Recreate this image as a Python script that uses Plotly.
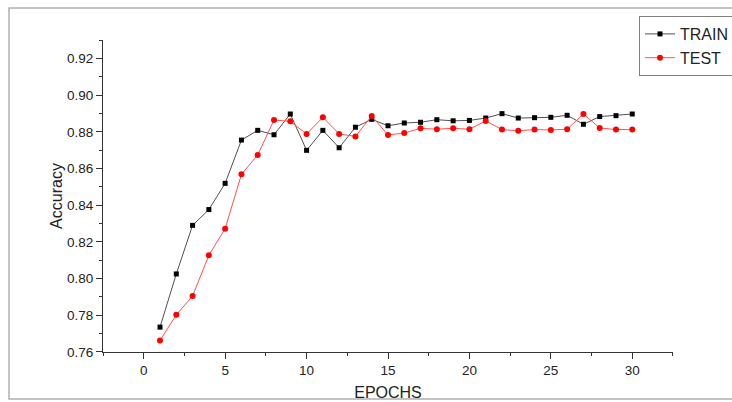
import plotly.graph_objects as go

epochs = list(range(1, 31))
train_acc = [0.7735, 0.8025, 0.8290, 0.8376, 0.8519, 0.8755, 0.8808, 0.8784, 0.8897, 0.8699,
             0.8808, 0.8713, 0.8825, 0.8868, 0.8833, 0.8848, 0.8852, 0.8866, 0.8860, 0.8862,
             0.8875, 0.8899, 0.8875, 0.8877, 0.8879, 0.8890, 0.8841, 0.8883, 0.8888, 0.8897]
test_acc = [0.7662, 0.7802, 0.7905, 0.8127, 0.8272, 0.8568, 0.8674, 0.8864, 0.8857, 0.8788,
            0.8879, 0.8788, 0.8775, 0.8886, 0.8783, 0.8793, 0.8819, 0.8814, 0.8819, 0.8814,
            0.8859, 0.8812, 0.8806, 0.8812, 0.8810, 0.8814, 0.8897, 0.8821, 0.8812, 0.8812]

W, H = 732, 402
L, R, T, B = 103, 59, 40, 50
pw, ph = W - L - R, H - T - B

def px_x(p):
    return (p - L) / pw

def px_y(p):
    return (H - B - p) / ph

fig = go.Figure()
fig.add_trace(go.Scatter(
    x=epochs, y=train_acc, name="TRAIN", mode="lines+markers",
    line=dict(color="#505050", width=1),
    marker=dict(symbol="square", size=5, color="black"),
))
fig.add_trace(go.Scatter(
    x=epochs, y=test_acc, name="TEST", mode="lines+markers",
    line=dict(color="#ff5050", width=1),
    marker=dict(symbol="circle", size=6, color="#ff0000"),
))

axis_font = dict(family="Liberation Sans, Arial, sans-serif", size=13.5, color="#222")
fig.update_layout(
    width=W, height=H,
    margin=dict(l=L, r=R, t=T, b=B, autoexpand=False),
    paper_bgcolor="white", plot_bgcolor="white",
    font=dict(family="Liberation Sans, Arial, sans-serif", color="#222"),
    showlegend=True,
    legend=dict(
        x=px_x(639), y=px_y(16), xanchor="left", yanchor="top",
        bordercolor="#808080", borderwidth=1, bgcolor="white",
        font=dict(size=16, color="#222"),
        tracegroupgap=0, itemwidth=30,
    ),
    xaxis=dict(
        range=[-2.501, 32.501], showgrid=False, zeroline=False,
        showline=True, linecolor="#333", linewidth=1,
        ticks="outside", ticklen=6, tickcolor="#333", tickwidth=1,
        tick0=0, dtick=5, tickfont=axis_font,
        minor=dict(ticks="outside", ticklen=3, tickcolor="#333", tick0=0, dtick=2.5, showgrid=False),
        title=dict(text="EPOCHS", font=dict(size=16, color="#222"), standoff=9),
    ),
    yaxis=dict(
        range=[0.75995, 0.93005], showgrid=False, zeroline=False,
        showline=True, linecolor="#333", linewidth=1,
        ticks="outside", ticklen=6, tickcolor="#333", tickwidth=1,
        tick0=0.76, dtick=0.02, tickformat=".2f", tickfont=axis_font,
        minor=dict(ticks="outside", ticklen=3, tickcolor="#333", tick0=0.76, dtick=0.01, showgrid=False),
        title=dict(text="Accuracy", font=dict(size=16, color="#222"), standoff=0),
    ),
    shapes=[dict(
        type="rect", xref="paper", yref="paper",
        x0=px_x(9), x1=px_x(760), y0=px_y(399), y1=px_y(8),
        line=dict(color="#b0b0b0", width=1.5), fillcolor="rgba(0,0,0,0)", layer="below",
    )],
)

fig.write_html("out.html", config={"displayModeBar": False},
               post_script="document.body.style.margin='0';document.body.style.overflow='hidden';")
